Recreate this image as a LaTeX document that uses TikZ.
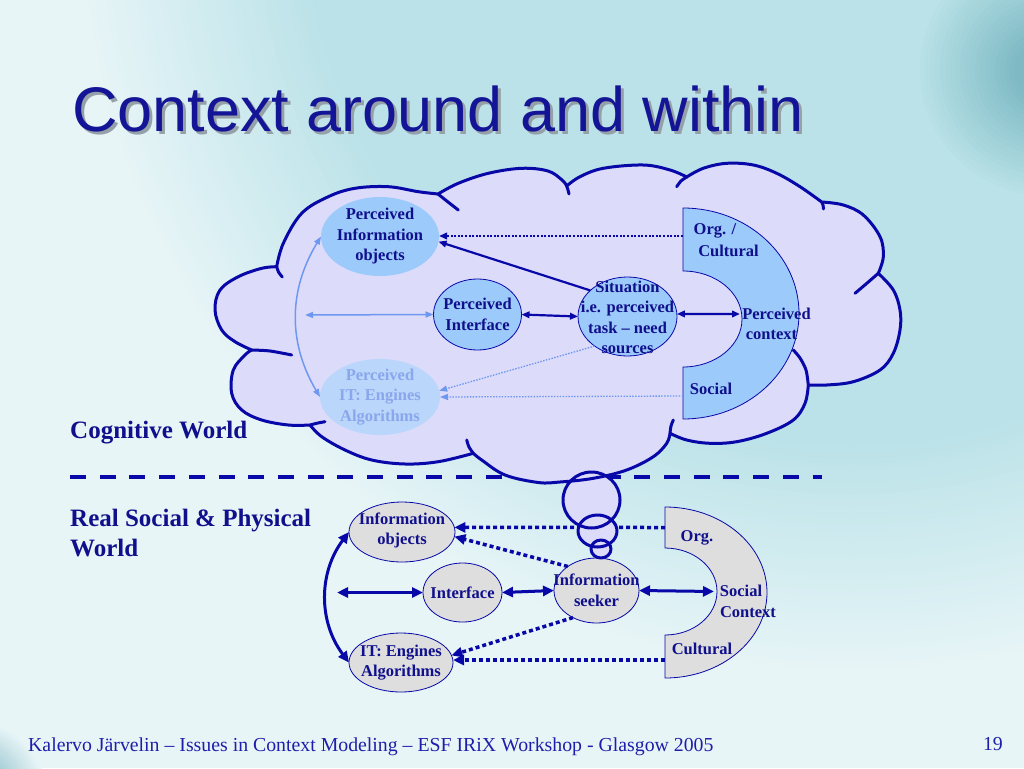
\documentclass[tikz,border=0pt]{standalone}
\usepackage{fontspec}
\setmainfont{Liberation Serif}
\newfontfamily\arialfont{Liberation Sans}
\usetikzlibrary{arrows.meta,shapes.geometric}

\definecolor{bgL}{RGB}{232,245,247}
\definecolor{bgT}{RGB}{186,226,232}
\definecolor{cornerteal}{RGB}{100,168,180}
\definecolor{lineblue}{RGB}{8,8,168}
\definecolor{txtblue}{RGB}{16,16,140}
\definecolor{cloudfill}{RGB}{221,219,250}
\definecolor{pblue}{RGB}{156,202,250}
\definecolor{fadefill}{RGB}{186,214,250}
\definecolor{fadetxt}{RGB}{138,166,236}
\definecolor{lightarr}{RGB}{110,152,240}
\definecolor{greyfill}{RGB}{222,222,222}
\definecolor{titleblue}{RGB}{20,20,150}
\definecolor{shadowgrey}{RGB}{150,160,168}
\definecolor{footblue}{RGB}{30,30,170}

\newcommand\mycloudshape[1]{%
\path[#1]
 plot[smooth, tension=0.6] coordinates {(276.7,266.7) (283.3,243.3) (301.7,213.3) (328.3,196.7) (355,188.3) (388.3,186.7) (418.3,191.7) (438,194)}
 -- plot[smooth, tension=0.6] coordinates {(438,194) (458.3,183.3) (488.3,173.3) (521.7,168.3) (548,171) (562,180) (566.7,186)}
 -- plot[smooth, tension=0.6] coordinates {(566.7,186) (580,176.7) (603.3,168.3) (643.3,165) (670,170) (686.7,177)}
 -- plot[smooth, tension=0.6] coordinates {(686.7,177) (703.3,168.3) (726.7,163.3) (753.3,165) (776.7,173.3) (800,186.7) (821.7,202)}
 -- plot[smooth, tension=0.6] coordinates {(821.7,202) (843.3,205) (863.3,215) (880,236.7) (883.3,256.7) (878.3,273.3)}
 -- plot[smooth, tension=0.6] coordinates {(878.3,273.3) (893.3,290) (900,310) (900,330) (893.3,353.3) (880,370) (853.3,381.7) (826.7,385) (808.3,385)}
 -- plot[smooth, tension=0.6] coordinates {(808.3,385) (805,403.3) (793.3,420) (766.7,433.3) (736.7,441.7) (710,443.3) (686.7,440) (670,433.3)}
 -- plot[smooth, tension=0.6] coordinates {(670,433.3) (666.7,443.3) (653.3,456.7) (626.7,470) (593.3,478.3) (560,482) (538.3,482.5) (505,475) (481.7,460) (473.3,453.3)}
 -- plot[smooth, tension=0.6] coordinates {(473.3,453.3) (438.3,461.7) (405,464) (371.7,460) (345,450) (321.7,436.7) (310,425)}
 -- plot[smooth, tension=0.6] coordinates {(310,425) (288.3,425) (261.7,420) (241.7,410) (231.7,393.3) (233.3,370) (245,355) (251.7,350)}
 -- plot[smooth, tension=0.6] coordinates {(251.7,350) (235,341.7) (221.7,330) (215,310) (220,290) (238.3,276.7) (261.7,268.3) (276.7,266.7)}
 -- cycle;}

\tikzset{
  pell/.style={ellipse, fill=pblue, draw=none, inner sep=0pt, outer sep=0pt},
  pellb/.style={pell, draw=lineblue, line width=0.8pt},
  fell/.style={ellipse, fill=fadefill, draw=none, inner sep=0pt, outer sep=0pt},
  gell/.style={ellipse, fill=greyfill, draw=lineblue, line width=0.8pt, inner sep=0pt, outer sep=0pt},
  ntxt/.style={inner sep=0pt, align=center, text=txtblue, font=\bfseries\fontsize{16.5}{20.5}\selectfont},
  ftxt/.style={ntxt, text=fadetxt},
  side/.style={inner sep=0pt, anchor=base west, align=left, text=txtblue, font=\bfseries\fontsize{25}{30}\selectfont},
  dk/.style={draw=lineblue, line width=2.2pt},
  dkdot/.style={draw=lineblue, line width=2pt, dash pattern=on 2pt off 1.6pt},
  lt/.style={draw=lightarr, line width=1.5pt},
  ltdot/.style={draw=lightarr, line width=1.3pt, dash pattern=on 1.5pt off 1.4pt},
  thk/.style={draw=lineblue, line width=3pt},
  thdot/.style={draw=lineblue, line width=3.5pt, dash pattern=on 4pt off 3pt},
  sepline/.style={draw=lineblue, line width=4.5pt, dash pattern=on 16pt off 13.7pt},
  cloudline/.style={draw=lineblue, line width=3pt, line join=round, line cap=round},
  ringtop/.style={draw=lineblue, line width=0.8pt, fill=pblue},
  ringlow/.style={draw=lineblue, line width=0.8pt, fill=greyfill},
}

\begin{document}
\begin{tikzpicture}[x=1pt,y=-1pt,
  tS/.tip={Triangle[length=8pt,width=6.5pt]},
  tL/.tip={Triangle[length=8pt,width=6pt]},
  tB/.tip={Triangle[length=11pt,width=10pt]}]
\useasboundingbox (0,0) rectangle (1024,768);
% background
\fill[bgL] (0,0) rectangle (1024,768);
\begin{scope}
  \clip (0,0) rectangle (1024,768);
  \foreach \i in {0,...,40}{
    \pgfmathsetmacro\r{780-6*\i}
    \pgfmathsetmacro\p{2.5*\i}
    \fill[bgT!\p!bgL] (850,-100) circle (\r);
  }
  \foreach \i in {0,...,20}{
    \pgfmathsetmacro\r{130-5*\i}
    \pgfmathsetmacro\p{3.5*\i}
    \fill[cornerteal!\p!bgT] (1045,70) circle (\r);
  }
  \foreach \i in {0,...,15}{
    \pgfmathsetmacro\r{70-3*\i}
    \pgfmathsetmacro\p{4*\i}
    \fill[cornerteal!\p!bgL] (-25,790) circle (\r);
  }
\end{scope}

% title
\node[anchor=base west, inner sep=0pt, text=shadowgrey, font=\arialfont\fontsize{63}{70}\selectfont] (titleshadow) at (75,134) {Context around and within};
\node[anchor=base west, inner sep=0pt, text=titleblue, font=\arialfont\fontsize{63}{70}\selectfont] (title) at (72,131) {Context around and within};

% separator
\coordinate (dsA) at (70,477);
\coordinate (dsB) at (822,477);
\draw[sepline] (dsA) -- (dsB);

% ---------- lower (real world) ----------
\path[ringlow] (665,507) arc[start angle=-90, delta angle=180, x radius=102, y radius=85.5]
  -- (665,635) arc[start angle=90, delta angle=-180, x radius=52, y radius=43.5] -- cycle;
\node[ntxt] (lorg) at (697,538) {Org.};
\node[ntxt] (lsoc) at (741,591) {Social};
\node[ntxt] (lctx) at (748,612) {Context};
\node[ntxt] (lcul) at (702,649) {Cultural};

\node[gell, minimum width=106, minimum height=60] (io) at (402,532) {};
\node[ntxt] (io-t) at (402,530.5) {Information\\objects};
\node[gell, minimum width=79, minimum height=59] (ifc) at (462.5,592.5) {};
\node[ntxt] (ifc-t) at (ifc.center) {Interface};
\node[gell, minimum width=85, minimum height=65] (seek) at (596.5,590.5) {};
\node[ntxt] (seek-t) at (seek.center) {Information\\seeker};
\node[gell, minimum width=104, minimum height=59] (it) at (401,662.5) {};
\node[ntxt] (it-t) at (it.center) {IT: Engines\\Algorithms};

\coordinate (lhA) at (665,527.5);
\coordinate (lhB) at (665,660);
\coordinate (lhC) at (714,591.5);
\coordinate (lfB) at (337,592.5);
\draw[thdot, -{tB}] (lhA) -- (io.5);
\draw[thdot, -{tB}] (seek.140) -- (io.-5);
\draw[thdot, -{tB}] (seek.229) -- (it.8);
\draw[thdot, -{tB}] (lhB) -- (it.east |- lhB);
\draw[thk, {tB}-{tB}] (lfB) -- (ifc.west);
\draw[thk, {tB}-{tB}] (ifc.east) -- (seek.west);
\draw[thk, {tB}-{tB}] (seek.east) -- (lhC);
\draw[thk, {tB}-{tB}] (io.west) to[bend right=37] (it.west);

% ---------- cloud ----------
\mycloudshape{fill=cloudfill}
\fill[cloudfill] (591.5,500) ellipse [x radius=28.5, y radius=28];
\fill[cloudfill] (597.5,531) ellipse [x radius=19.5, y radius=16];
\fill[cloudfill] (601,549) ellipse [x radius=10, y radius=9];
\mycloudshape{cloudline}
\draw[cloudline] plot[smooth] coordinates {(276.7,266.7) (278.5,272) (282.3,277)};
\draw[cloudline] plot[smooth] coordinates {(438,194) (448,202) (458.3,210)};
\draw[cloudline] plot[smooth] coordinates {(566.7,186) (568,190) (569,194)};
\draw[cloudline] plot[smooth] coordinates {(686.7,177) (681,181) (676.7,186.7)};
\draw[cloudline] plot[smooth] coordinates {(821.7,202) (823,205) (823.5,209)};
\draw[cloudline] plot[smooth] coordinates {(878.3,273.3) (866,284) (855,293.3)};
\draw[cloudline] plot[smooth] coordinates {(808.3,385) (806,370) (800,358) (793.3,350)};
\draw[cloudline] plot[smooth] coordinates {(670,433.3) (671,426) (673.3,420)};
\draw[cloudline] plot[smooth] coordinates {(473.3,453.3) (469,447) (466.7,440)};
\draw[cloudline] plot[smooth] coordinates {(310,425) (318,423) (325,421.7)};
\draw[cloudline] plot[smooth] coordinates {(251.7,350) (270,351) (291.7,355)};
\draw[cloudline] (591.5,500) ellipse [x radius=28.5, y radius=28];
\draw[cloudline] (597.5,531) ellipse [x radius=19.5, y radius=16];
\draw[cloudline] (601,549) ellipse [x radius=10, y radius=9];

% ---------- upper (cognitive world) ----------
\path[ringtop] (683,208) arc[start angle=-90, delta angle=180, x radius=116, y radius=105.5]
  -- (683,367) arc[start angle=90, delta angle=-180, x radius=59, y radius=48] -- cycle;
\node[ntxt] (horg) at (715,231) {Org. /};
\node[ntxt] (hcul) at (728.5,251) {Cultural};
\node[ntxt] (hper) at (776.5,314) {Perceived};
\node[ntxt] (hctx) at (771.5,335) {context};
\node[ntxt] (hsoc) at (711,389) {Social};

\node[pell, minimum width=118, minimum height=79] (pio) at (380,236.5) {};
\node[ntxt] (pio-t) at (pio.center) {Perceived\\Information\\objects};
\node[pellb, minimum width=88, minimum height=71] (pint) at (477.5,314.5) {};
\node[ntxt] (pint-t) at (pint.center) {Perceived\\Interface};
\node[pellb, minimum width=99, minimum height=79] (sit) at (627.5,316.5) {};
\node[ntxt] (sit-t) at (627.5,317.5) {Situation\\i.e. perceived\\task -- need\\sources};
\node[fell, minimum width=120, minimum height=76] (pit) at (380,397) {};
\node[ftxt] (pit-t) at (pit.center) {Perceived\\IT: Engines\\Algorithms};

\coordinate (hrA) at (683,236);
\coordinate (hrB) at (740,314);
\coordinate (hrC) at (683,396);
\coordinate (lfA) at (305,315);
\draw[dkdot, -{tS}] (hrA) -- (pio.east |- hrA);
\draw[dk, -{tS}] (sit.145) -- (pio.-5);
\draw[dk, {tS}-{tS}] (pint.east) -- (sit.west);
\draw[dk, {tS}-{tS}] (sit.3) -- (hrB);
\draw[lt, {tL}-{tL}] (lfA) -- (pint.west);
\draw[lt, {tL}-{tL}] (pio.west) to[bend right=31] (pit.west);
\draw[ltdot, -{tL}] (sit.222) -- (pit.6);
\draw[ltdot, -{tL}] (hrC) -- (pit.east);

% ---------- side labels and footer ----------
\node[side] (cogw) at (70,438) {Cognitive World};
\node[side] (realw) at (70,556) {Real Social \& Physical\\World};
\node[anchor=base west, inner sep=0pt, text=footblue, font=\fontsize{19.8}{21}\selectfont] (foot) at (28,751) {Kalervo Järvelin – Issues in Context Modeling – ESF IRiX Workshop - Glasgow 2005};
\node[anchor=base east, inner sep=0pt, text=footblue, font=\fontsize{19.8}{21}\selectfont] (pgno) at (1003,750) {19};
\end{tikzpicture}
\end{document}
